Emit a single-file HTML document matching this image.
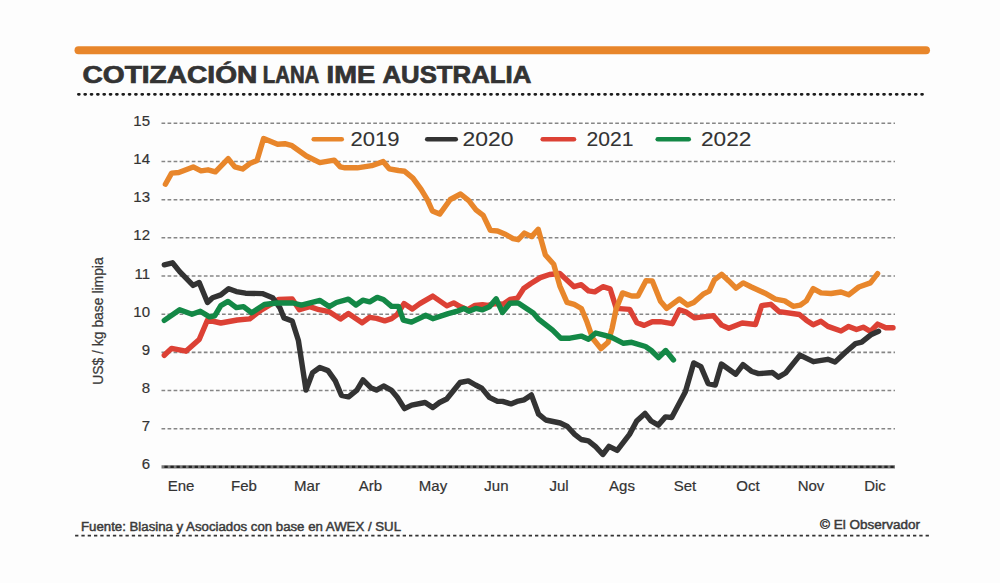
<!DOCTYPE html>
<html><head><meta charset="utf-8">
<style>
html,body{margin:0;padding:0;background:#FDFDFD;}
body{width:1000px;height:583px;overflow:hidden;position:relative;font-family:"Liberation Sans",sans-serif;}
svg{position:absolute;left:0;top:0;}
.yl{font-size:15px;fill:#333;stroke:#333;stroke-width:0.18;}
.ml{font-size:15px;fill:#333;stroke:#333;stroke-width:0.2;}
.lg{font-size:20.7px;fill:#333;stroke:#333;stroke-width:0.1;}
.ttl{font-size:23px;font-weight:bold;fill:#333;stroke:#333;stroke-width:0.7;}
.ft{font-size:12px;fill:#3a3a3a;stroke:#3a3a3a;stroke-width:0.45;}
</style></head><body>
<svg width="1000" height="583" viewBox="0 0 1000 583">
<line x1="78.5" y1="50.3" x2="926" y2="50.3" stroke="#E8862B" stroke-width="8" stroke-linecap="round"/>
<text x="82.5" y="82.6" class="ttl" textLength="174.8" lengthAdjust="spacingAndGlyphs">COTIZACIÓN</text>
<text x="262.8" y="82.6" class="ttl" textLength="56.5" lengthAdjust="spacingAndGlyphs">LANA</text>
<text x="326.6" y="82.6" class="ttl" textLength="48.5" lengthAdjust="spacingAndGlyphs">IME</text>
<text x="382.5" y="82.6" class="ttl" textLength="148.8" lengthAdjust="spacingAndGlyphs">AUSTRALIA</text>
<line x1="78.4" y1="94.3" x2="923" y2="94.3" stroke="#1c1c1c" stroke-width="2.8" stroke-linecap="round" stroke-dasharray="0.9 5.44" />
<line x1="161.5" y1="428.7" x2="895" y2="428.7" stroke="#868686" stroke-width="1.6" stroke-dasharray="3.7 2.35"/>
<text x="150" y="431.2" text-anchor="end" class="yl">7</text>
<line x1="161.5" y1="390.5" x2="895" y2="390.5" stroke="#868686" stroke-width="1.6" stroke-dasharray="3.7 2.35"/>
<text x="150" y="393.0" text-anchor="end" class="yl">8</text>
<line x1="161.5" y1="352.4" x2="895" y2="352.4" stroke="#868686" stroke-width="1.6" stroke-dasharray="3.7 2.35"/>
<text x="150" y="354.9" text-anchor="end" class="yl">9</text>
<line x1="161.5" y1="314.2" x2="895" y2="314.2" stroke="#868686" stroke-width="1.6" stroke-dasharray="3.7 2.35"/>
<text x="150" y="316.7" text-anchor="end" class="yl">10</text>
<line x1="161.5" y1="276.0" x2="895" y2="276.0" stroke="#868686" stroke-width="1.6" stroke-dasharray="3.7 2.35"/>
<text x="150" y="278.5" text-anchor="end" class="yl">11</text>
<line x1="161.5" y1="237.8" x2="895" y2="237.8" stroke="#868686" stroke-width="1.6" stroke-dasharray="3.7 2.35"/>
<text x="150" y="240.3" text-anchor="end" class="yl">12</text>
<line x1="161.5" y1="199.7" x2="895" y2="199.7" stroke="#868686" stroke-width="1.6" stroke-dasharray="3.7 2.35"/>
<text x="150" y="202.2" text-anchor="end" class="yl">13</text>
<line x1="161.5" y1="161.5" x2="895" y2="161.5" stroke="#868686" stroke-width="1.6" stroke-dasharray="3.7 2.35"/>
<text x="150" y="164.0" text-anchor="end" class="yl">14</text>
<line x1="161.5" y1="123.3" x2="895" y2="123.3" stroke="#868686" stroke-width="1.6" stroke-dasharray="3.7 2.35"/>
<text x="150" y="125.8" text-anchor="end" class="yl">15</text>
<line x1="161.5" y1="466.9" x2="895" y2="466.9" stroke="#777" stroke-width="3.2"/>
<line x1="164.4" y1="466.9" x2="895" y2="466.9" stroke="#252525" stroke-width="2.2" stroke-dasharray="3.3 2.75"/>
<text x="150" y="469.4" text-anchor="end" class="yl">6</text>

<text x="181" y="491.1" text-anchor="middle" class="ml">Ene</text>
<text x="244" y="491.1" text-anchor="middle" class="ml">Feb</text>
<text x="307" y="491.1" text-anchor="middle" class="ml">Mar</text>
<text x="370.5" y="491.1" text-anchor="middle" class="ml">Arb</text>
<text x="433" y="491.1" text-anchor="middle" class="ml">May</text>
<text x="496.4" y="491.1" text-anchor="middle" class="ml">Jun</text>
<text x="559" y="491.1" text-anchor="middle" class="ml">Jul</text>
<text x="622" y="491.1" text-anchor="middle" class="ml">Ags</text>
<text x="685" y="491.1" text-anchor="middle" class="ml">Set</text>
<text x="748" y="491.1" text-anchor="middle" class="ml">Oct</text>
<text x="811" y="491.1" text-anchor="middle" class="ml">Nov</text>
<text x="875" y="491.1" text-anchor="middle" class="ml">Dic</text>

<text transform="translate(102.6,384.8) rotate(-90)" class="yt" style="font-size:14.6px;fill:#3a3a3a;stroke:#3a3a3a;stroke-width:0.25" textLength="127.5" lengthAdjust="spacingAndGlyphs">US$ / kg base limpia</text>

<line x1="313.75" y1="139.25" x2="341.75" y2="139.25" stroke="#E8862B" stroke-width="4.6" stroke-linecap="round"/>
<text x="350.5" y="146.3" class="lg" textLength="49" lengthAdjust="spacingAndGlyphs">2019</text>
<line x1="427.25" y1="139.25" x2="455.75" y2="139.25" stroke="#333333" stroke-width="4.6" stroke-linecap="round"/>
<text x="462.5" y="146.3" class="lg" textLength="51" lengthAdjust="spacingAndGlyphs">2020</text>
<line x1="542.75" y1="139.25" x2="573.95" y2="139.25" stroke="#DC4135" stroke-width="4.6" stroke-linecap="round"/>
<text x="586.5" y="146.3" class="lg" textLength="47" lengthAdjust="spacingAndGlyphs">2021</text>
<line x1="657.75" y1="139.25" x2="688.75" y2="139.25" stroke="#138846" stroke-width="4.6" stroke-linecap="round"/>
<text x="701" y="146.3" class="lg" textLength="50.5" lengthAdjust="spacingAndGlyphs">2022</text>

<path d="M164.3,355.3 L171.5,348.4 L185.9,351.2 L199.2,339.5 L207.5,320.0 L220.8,323.0 L237.3,320.0 L249.7,318.9 L260.3,310.7 L278.8,299.4 L292.2,299.0 L299.4,309.7 L309.7,306.6 L319.0,309.7 L329.2,311.7 L340.5,319.0 L348.4,313.6 L362.1,322.8 L369.7,317.3 L376.6,318.3 L384.8,320.8 L391.6,318.7 L397.1,314.6 L404.0,303.6 L412.2,309.1 L419.8,303.6 L432.8,296.1 L446.9,305.9 L453.7,302.9 L460.6,306.8 L467.4,309.8 L475.0,305.4 L482.5,304.6 L488.0,305.4 L494.9,303.6 L503.1,304.3 L510.0,299.5 L517.5,298.1 L523.7,288.5 L530.5,283.7 L540.3,277.6 L549.5,274.5 L559.8,273.5 L574.1,286.7 L581.3,284.7 L588.5,290.9 L594.7,291.9 L602.9,286.7 L610.1,288.8 L616.3,308.4 L629.7,309.4 L636.9,322.8 L644.1,325.4 L652.3,321.7 L660.5,321.7 L672.2,323.7 L679.4,309.7 L685.6,311.7 L694.8,317.9 L703.1,316.9 L713.4,315.8 L721.6,325.1 L728.8,328.3 L742.2,323.0 L755.5,324.5 L761.7,305.6 L770.8,304.3 L779.3,311.7 L799.4,314.5 L806.3,320.2 L813.2,324.8 L821.0,321.3 L827.9,326.4 L841.0,331.0 L848.7,326.4 L856.5,329.5 L863.2,327.2 L870.4,331.3 L877.6,324.1 L885.8,327.8 L893.0,327.8" fill="none" stroke="#DC4135" stroke-width="5.4" stroke-linejoin="round" stroke-linecap="round"/>
<path d="M165.4,184.2 L171.6,173.1 L178.8,172.5 L193.2,166.9 L201.0,170.8 L208.0,169.8 L215.4,171.9 L228.2,158.7 L234.8,166.9 L242.6,169.0 L249.8,163.6 L257.0,160.5 L263.6,138.5 L277.6,144.3 L284.8,143.7 L292.0,145.7 L306.4,156.0 L319.8,162.6 L334.2,160.1 L340.3,166.9 L345.0,167.8 L357.3,167.8 L371.7,165.7 L383.1,161.6 L389.2,168.8 L398.5,170.5 L404.7,171.3 L412.9,178.1 L421.1,189.4 L427.3,199.7 L432.4,211.0 L439.7,214.1 L450.3,199.5 L460.6,194.0 L468.8,200.6 L476.0,209.8 L483.2,215.4 L490.4,230.4 L497.6,231.0 L505.8,234.5 L513.0,238.6 L518.2,239.7 L524.4,233.1 L531.6,236.6 L538.2,229.3 L545.4,255.0 L553.7,264.2 L559.8,285.8 L567.0,302.3 L574.2,304.4 L581.4,308.5 L586.5,320.7 L592.6,338.2 L600.9,348.6 L608.1,342.3 L612.2,327.9 L616.3,308.4 L622.5,292.9 L631.7,296.0 L637.9,296.0 L646.1,280.6 L652.3,281.0 L660.5,301.2 L666.7,308.4 L679.4,299.0 L687.6,305.1 L693.8,302.5 L703.1,294.2 L709.2,291.2 L714.4,279.8 L721.6,274.3 L728.8,280.9 L736.0,288.1 L743.2,282.9 L751.4,287.0 L765.0,293.2 L775.4,299.1 L784.7,300.9 L793.2,306.3 L800.1,305.2 L806.3,300.9 L813.2,288.6 L821.0,292.9 L831.0,293.5 L841.0,292.0 L848.7,294.8 L858.8,287.0 L870.4,282.9 L877.6,273.7" fill="none" stroke="#E8862B" stroke-width="5.4" stroke-linejoin="round" stroke-linecap="round"/>
<path d="M164.3,264.8 L172.5,262.8 L179.7,271.6 L193.1,285.4 L199.2,282.5 L207.5,302.5 L212.6,297.7 L220.8,294.9 L228.7,288.7 L236.3,291.6 L245.5,293.2 L262.3,293.6 L272.6,297.7 L279.8,307.6 L284.0,317.9 L292.2,321.0 L298.4,340.5 L306.0,390.1 L312.6,372.6 L319.8,367.5 L328.0,370.6 L335.3,380.9 L341.4,395.3 L348.6,396.9 L356.9,390.1 L363.0,379.8 L371.3,388.1 L376.4,390.1 L383.6,386.0 L391.2,390.1 L397.3,397.3 L404.5,408.6 L411.7,405.1 L425.1,402.5 L432.7,407.6 L439.5,402.5 L446.7,399.0 L460.1,382.5 L468.3,380.9 L475.5,385.0 L481.7,388.1 L489.3,397.3 L497.5,401.4 L502.6,401.4 L510.9,403.9 L517.0,401.4 L524.2,399.8 L531.4,394.9 L538.6,414.2 L545.8,420.0 L560.2,423.0 L567.4,426.5 L574.7,434.4 L581.2,439.5 L588.4,440.9 L595.6,446.7 L602.8,454.5 L609.0,446.3 L617.2,450.4 L629.5,434.4 L636.7,421.0 L645.0,413.4 L651.1,421.0 L658.3,425.1 L665.5,416.9 L671.7,417.5 L685.4,391.7 L693.7,362.9 L700.9,366.6 L708.1,383.5 L715.3,385.1 L721.4,364.0 L735.8,374.2 L743.0,364.6 L751.3,371.2 L758.5,373.6 L770.0,372.8 L772.2,372.4 L778.4,377.2 L785.6,373.0 L800.0,355.1 L813.4,361.7 L827.8,359.3 L835.0,362.1 L845.2,352.5 L855.5,343.6 L861.7,342.2 L871.4,334.4 L878.6,331.3" fill="none" stroke="#333333" stroke-width="5.4" stroke-linejoin="round" stroke-linecap="round"/>
<path d="M164.3,320.4 L179.7,309.7 L192.0,314.2 L200.3,311.3 L209.5,316.9 L214.7,315.8 L220.8,305.6 L228.0,301.4 L236.3,307.6 L243.5,306.6 L251.7,312.8 L264.4,304.5 L276.7,303.0 L293.2,303.0 L301.4,305.1 L320.0,300.4 L329.2,306.6 L336.4,302.5 L348.4,299.1 L356.0,305.0 L362.8,300.2 L369.7,301.8 L377.2,297.4 L383.4,299.5 L391.6,306.4 L398.5,306.4 L403.3,320.1 L411.5,322.1 L425.9,315.3 L432.8,318.7 L448.2,313.6 L456.5,311.4 L464.0,308.4 L468.8,311.2 L475.7,308.4 L482.5,309.8 L489.4,306.8 L496.2,298.8 L502.4,312.5 L510.0,303.2 L518.2,302.9 L525.0,307.5 L533.3,313.0 L538.2,318.8 L552.6,330.1 L560.9,338.3 L570.0,338.2 L581.3,336.1 L588.5,339.2 L595.7,333.0 L604.0,335.1 L611.2,337.2 L623.5,343.3 L631.7,342.3 L645.5,346.5 L651.3,350.5 L658.5,357.7 L665.7,350.5 L673.5,360.0" fill="none" stroke="#138846" stroke-width="5.4" stroke-linejoin="round" stroke-linecap="round"/>

<text x="81" y="531.1" class="ft" textLength="320" lengthAdjust="spacingAndGlyphs">Fuente: Blasina y Asociados con base en AWEX / SUL</text>
<text x="820" y="528.9" class="ft" textLength="100" lengthAdjust="spacingAndGlyphs">© El Observador</text>
<line x1="75.1" y1="535.7" x2="929" y2="535.7" stroke="#333" stroke-width="1.8" stroke-dasharray="3.3 3.0"/>
</svg>
</body></html>
